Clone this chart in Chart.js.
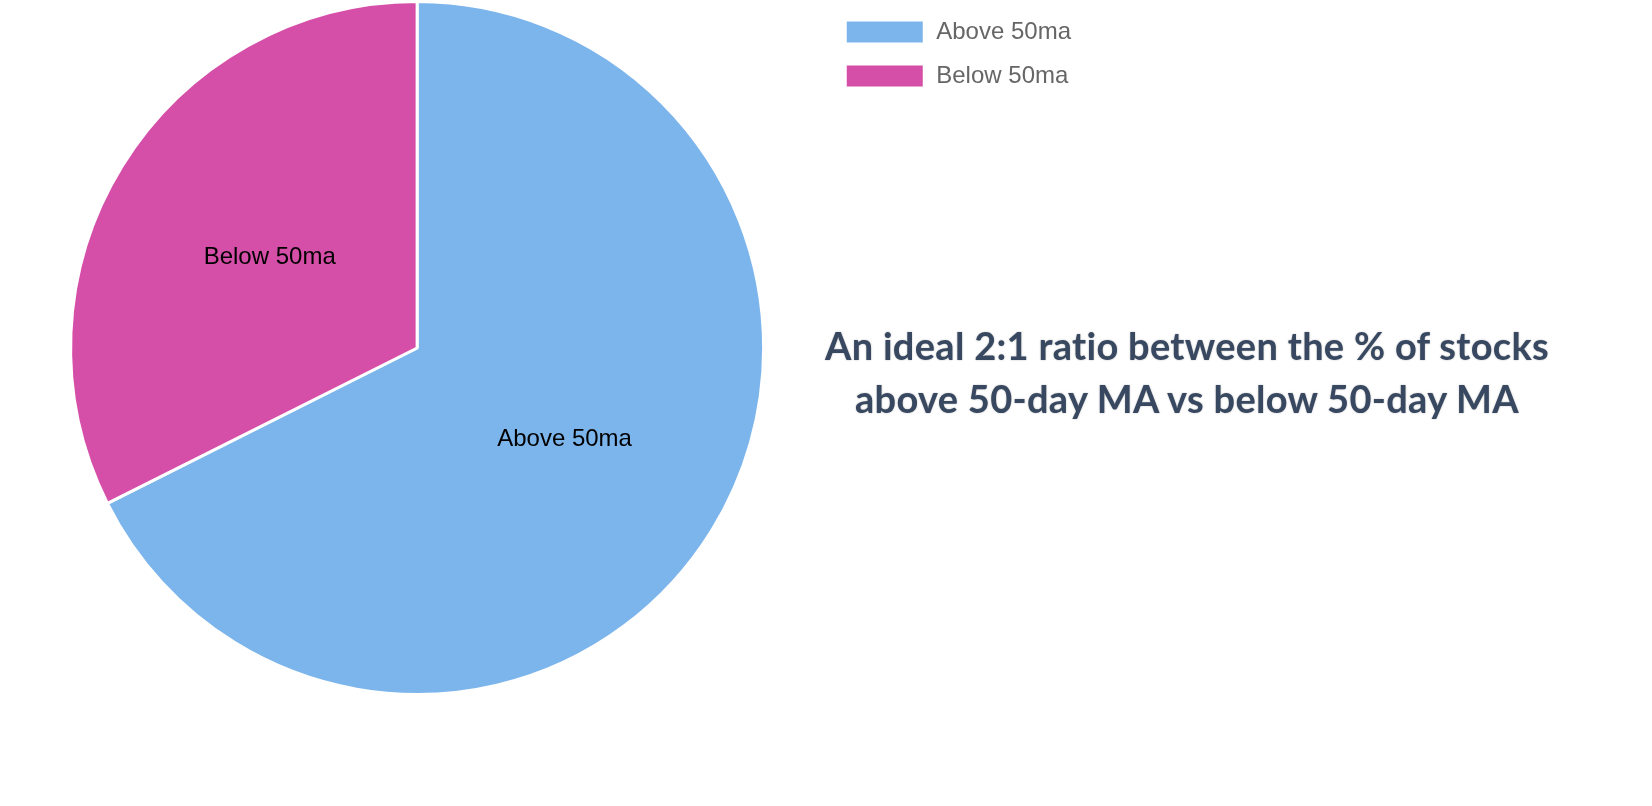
<!DOCTYPE html>
<html>
<head>
<meta charset="utf-8">
<script src="https://cdn.jsdelivr.net/npm/chart.js@4"></script>
<style>
    html, body { margin: 0; padding: 0; background: #fff; }
    body { width: 1652px; height: 806px; position: relative; overflow: hidden; }
    #chartWrap { position: absolute; left: 0; top: 0; width: 1081px; height: 696px; }
    #note {
        position: absolute;
        left: 690px;
        width: 994px;
        top: 319px;
        text-align: center;
        font-family: "Trebuchet MS", Lato, "Open Sans", sans-serif;
        font-weight: 700;
        font-size: 38px;
        line-height: 53px;
        letter-spacing: 0.3px;
        color: #384860;
        paint-order: stroke fill;
        -webkit-text-stroke: 8px #fff;
        text-shadow: 0 0 2px rgba(0, 0, 0, 0.28);
    }
</style>
</head>
<body>
<div id="chartWrap"><canvas id="pieChart"></canvas></div>
<div id="note">An ideal 2:1 ratio between the % of stocks<br>above 50-day MA vs below 50-day MA</div>
<script>
const labels = ["Above 50ma", "Below 50ma"];
const shares = [67.6, 32.4];
const colors = ["#7cb5ec", "#d54ea8"];

// slice names in the middle of each arc
const sliceLabels = {
    id: "sliceLabels",
    afterDatasetsDraw(chart) {
        const ctx = chart.ctx;
        const meta = chart.getDatasetMeta(0);
        ctx.save();
        ctx.font = "24px 'Liberation Sans', Arial, sans-serif";
        ctx.fillStyle = "#000";
        ctx.textAlign = "center";
        ctx.textBaseline = "middle";
        meta.data.forEach((arc, i) => {
            const pos = arc.tooltipPosition();
            ctx.fillText(chart.data.labels[i], pos.x, pos.y);
        });
        ctx.restore();
    }
};

const ctx = document.getElementById("pieChart").getContext("2d");
new Chart(ctx, {
    type: "pie",
    data: {
        labels: labels,
        datasets: [{
            data: shares,
            backgroundColor: colors,
            borderColor: "#fff",
            borderWidth: 3
        }]
    },
    options: {
        responsive: true,
        maintainAspectRatio: false,
        animation: false,
        layout: { padding: { left: 9 } },
        plugins: {
            legend: {
                position: "right",
                align: "start",
                labels: {
                    boxWidth: 79,
                    boxHeight: 24,
                    padding: 20,
                    color: "#666",
                    font: { family: "'Liberation Sans', Arial, sans-serif", size: 24 }
                }
            },
            tooltip: { enabled: false }
        }
    },
    plugins: [sliceLabels]
});
</script>
</body>
</html>
